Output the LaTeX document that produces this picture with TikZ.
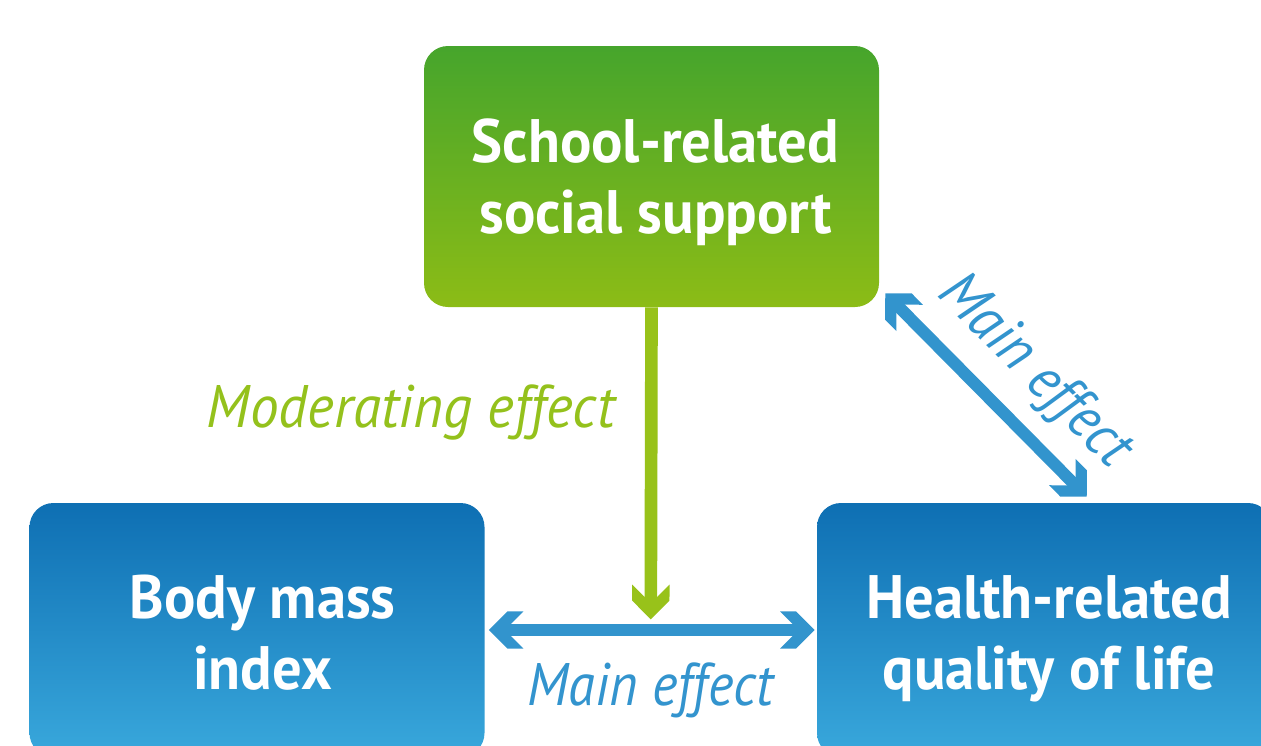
\documentclass[tikz,border=0pt]{standalone}
\usepackage{fontspec}
\setmainfont{PT Sans}
\newfontfamily\boxfont[FakeStretch=0.955]{PT Sans}
\newfontfamily\labelfont[FakeStretch=0.91]{PT Sans}
\newfontfamily\modfont[FakeStretch=0.955]{PT Sans}
\usetikzlibrary{calc}

% Chevron arrow tip: two 45-degree arms, ends cut parallel to the shaft
\pgfdeclarearrow{
  name = Chev,
  setup code = {
    \pgfarrowssettipend{0pt}
    \pgfarrowssetlineend{-10pt}
    \pgfarrowssetvisualbackend{-26pt}
    \pgfarrowssetbackend{-26pt}
    \pgfarrowshullpoint{0pt}{0pt}
    \pgfarrowshullpoint{-26pt}{14pt}
    \pgfarrowshullpoint{-26pt}{-14pt}
  },
  drawing code = {
    \pgfpathmoveto{\pgfqpoint{0pt}{0pt}}
    \pgfpathlineto{\pgfqpoint{-14pt}{14pt}}
    \pgfpathlineto{\pgfqpoint{-26pt}{14pt}}
    \pgfpathlineto{\pgfqpoint{-12.5pt}{0.5pt}}
    \pgfpathlineto{\pgfqpoint{-12.5pt}{-0.5pt}}
    \pgfpathlineto{\pgfqpoint{-26pt}{-14pt}}
    \pgfpathlineto{\pgfqpoint{-14pt}{-14pt}}
    \pgfpathclose
    \pgfusepathqfill
  }
}

\definecolor{blueTop}{HTML}{0E6FB3}
\definecolor{blueBot}{HTML}{39A8DC}
\definecolor{greenTop}{HTML}{46A52C}
\definecolor{greenBot}{HTML}{8CBC16}
\definecolor{limeArrow}{HTML}{98C21A}
\definecolor{blueArrow}{HTML}{3294CD}
\definecolor{limeText}{HTML}{94C11C}
\definecolor{blueText}{HTML}{3394CE}

\tikzset{
  box/.style={rectangle, rounded corners=18pt, inner sep=0pt,
    minimum width=341.25pt, draw=none},
  bluebox/.style={box, minimum height=190.5pt, top color=blueTop, bottom color=blueBot},
  greenbox/.style={box, minimum height=195.75pt, top color=greenTop, bottom color=greenBot},
  boxtext/.style={anchor=base, text=white, font=\boxfont\bfseries\fontsize{46}{53}\selectfont, inner sep=0pt},
  efftext/.style={font=\labelfont\itshape\fontsize{45}{52}\selectfont, inner sep=0pt},
  modtext/.style={font=\modfont\itshape\fontsize{45}{52}\selectfont, inner sep=0pt},
  link/.style={line width=9pt, Chev-Chev},
  modlink/.style={line width=9.5pt, -Chev},
}

\begin{document}
\begin{tikzpicture}[x=0.75pt, y=-0.75pt]
  \useasboundingbox (0,0) rectangle (1261,746);
  \clip (0,0) rectangle (1261,746);

  % boxes
  \node[greenbox] (ssup) at (651.5,176.5) {};
  \node[bluebox]  (bmi)  at (257,630) {};
  \node[bluebox]  (hrq)  at (1044.5,630) {};

  % box captions
  \node[boxtext] (ssup1) at (655.5,162) {School-related};
  \node[boxtext] (ssup2) at (655.5,233) {social support};
  \node[boxtext] (bmi1)  at (262.5,618) {Body mass};
  \node[boxtext] (bmi2)  at (262.5,689) {index};
  \node[boxtext] (hrq1)  at (1049,618) {Health-related};
  \node[boxtext] (hrq2)  at (1049,689) {quality of life};

  % connectors
  \coordinate (mid) at ($(bmi.east)!0.5!(hrq.west)$);
  \coordinate (dTop) at ($(ssup.south east)+(6,-14)$);
  \coordinate (dBot) at ($(hrq.north west)+(270,-6)$);

  \draw[link, color=blueArrow, shorten <=3pt, shorten >=1.5pt] (bmi.east) -- (hrq.west);
  \draw[modlink, color=limeArrow, shorten >=8pt] (ssup.south) -- (mid);
  \draw[link, color=blueArrow] (dTop) -- (dBot);

  % effect labels
  \node[modtext, text=limeText, anchor=base] (modlbl) at (411,427) {Moderating effect};
  \node[efftext, text=blueText, anchor=base] (mainlbl) at (650.5,705) {Main effect};
  \node[efftext, text=blueText, rotate=-45] (diaglbl) at (1034,372) {Main effect};
\end{tikzpicture}
\end{document}
